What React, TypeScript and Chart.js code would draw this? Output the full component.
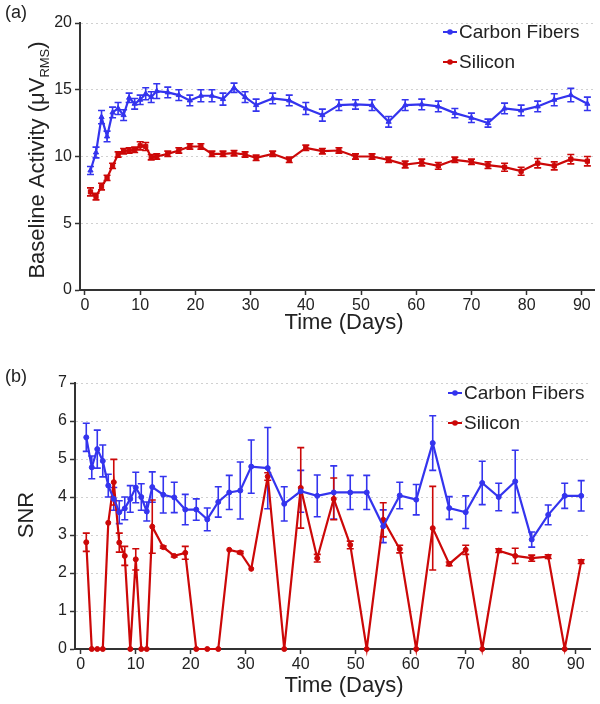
import React, { useEffect, useRef } from "react";
import { Chart, registerables } from "chart.js";

Chart.register(...registerables);

// ---------- data ----------
const days = [1, 2, 3, 4, 5, 6, 7, 8, 9, 10, 11, 12, 13, 15, 17, 19, 21, 23, 25, 27, 29, 31, 34, 37, 40, 43, 46, 49, 52, 55, 58, 61, 64, 67, 70, 73, 76, 79, 82, 85, 88, 91];

const cfBaseline = [8.95, 10.3, 12.95, 11.5, 13.3, 13.6, 13.1, 14.4, 13.95, 14.25, 14.7, 14.45, 14.9, 14.8, 14.6, 14.2, 14.55, 14.55, 14.3, 15.15, 14.45, 13.85, 14.35, 14.2, 13.6, 13.1, 13.85, 13.9, 13.85, 12.6, 13.85, 13.9, 13.75, 13.25, 12.9, 12.5, 13.6, 13.45, 13.75, 14.25, 14.6, 13.95];
const cfBaselineErr = [0.3, 0.4, 0.5, 0.4, 0.4, 0.45, 0.4, 0.35, 0.4, 0.35, 0.45, 0.4, 0.55, 0.4, 0.4, 0.4, 0.45, 0.45, 0.45, 0.35, 0.4, 0.45, 0.4, 0.4, 0.45, 0.45, 0.4, 0.35, 0.4, 0.4, 0.4, 0.4, 0.4, 0.35, 0.35, 0.3, 0.4, 0.4, 0.4, 0.45, 0.5, 0.5];

const siBaseline = [7.35, 7.0, 7.75, 8.4, 9.3, 10.15, 10.4, 10.45, 10.5, 10.8, 10.75, 9.95, 10.0, 10.2, 10.45, 10.75, 10.75, 10.2, 10.2, 10.25, 10.15, 9.9, 10.2, 9.75, 10.65, 10.4, 10.45, 10.0, 10.0, 9.75, 9.4, 9.55, 9.3, 9.75, 9.6, 9.35, 9.2, 8.9, 9.5, 9.3, 9.8, 9.65];
const siBaselineErr = [0.3, 0.25, 0.25, 0.2, 0.2, 0.2, 0.2, 0.2, 0.2, 0.3, 0.3, 0.2, 0.2, 0.2, 0.2, 0.2, 0.2, 0.2, 0.2, 0.2, 0.2, 0.2, 0.2, 0.2, 0.2, 0.2, 0.2, 0.2, 0.2, 0.2, 0.25, 0.25, 0.25, 0.2, 0.2, 0.25, 0.3, 0.3, 0.35, 0.3, 0.35, 0.35];

const cfSnr = [5.57, 4.78, 5.26, 4.95, 4.3, 3.95, 3.6, 3.7, 3.95, 4.25, 4.0, 3.62, 4.26, 4.06, 3.99, 3.67, 3.67, 3.41, 3.87, 4.12, 4.17, 4.8, 4.76, 3.82, 4.15, 4.03, 4.12, 4.12, 4.12, 3.23, 4.04, 3.93, 5.42, 3.71, 3.6, 4.37, 4.0, 4.41, 2.88, 3.53, 4.03, 4.03];
const cfSnrErr = [0.37, 0.3, 0.5, 0.42, 0.3, 0.3, 0.3, 0.3, 0.35, 0.4, 0.35, 0.25, 0.4, 0.48, 0.4, 0.4, 0.28, 0.3, 0.4, 0.45, 0.75, 0.7, 1.07, 0.45, 0.55, 0.55, 0.7, 0.45, 0.45, 0.43, 0.35, 0.4, 0.72, 0.3, 0.43, 0.57, 0.36, 0.82, 0.2, 0.26, 0.33, 0.4];

const siSnr = [2.81, 0, 0, 0, 3.32, 4.39, 2.8, 2.45, 0, 2.36, 0, 0, 3.22, 2.68, 2.45, 2.53, 0, 0, 0, 2.61, 2.54, 2.11, 4.54, 0, 4.24, 2.39, 3.95, 2.74, 0, 3.4, 2.63, 0, 3.18, 2.24, 2.61, 0, 2.59, 2.45, 2.39, 2.43, 0, 2.3];
const siSnrErr = [0.24, 0, 0, 0, 0, 0.6, 0.25, 0.25, 0, 0.28, 0, 0, 0.7, 0.03, 0.03, 0.17, 0, 0, 0, 0, 0.03, 0, 0.1, 0, 1.06, 0.1, 0.55, 0.1, 0, 0.45, 0.1, 0, 1.1, 0.05, 0.12, 0, 0.05, 0.2, 0.08, 0.05, 0, 0.05];

const xTickValues = [0, 10, 20, 30, 40, 50, 60, 70, 80, 90];
const seriesLabels = ["Carbon Fibers", "Silicon"];

// ---------- style ----------
const BLUE = "#3434ee";
const RED = "#cc0808";
const AXIS = "#333333";
const TEXT = "#222222";
const FONT = "'Liberation Sans', Arial, Helvetica, sans-serif";

const errorBarPlugin = {
  id: "errorBars",
  beforeDatasetsDraw(chart: any, _args: any, opts: any) {
    const errs: number[][] = opts.errors || [];
    const ctx = chart.ctx;
    const xs = chart.scales.x;
    const ys = chart.scales.y;
    const cap = opts.cap || 3.5;
    chart.data.datasets.forEach((ds: any, i: number) => {
      const e = errs[i];
      if (!e) return;
      ctx.save();
      ctx.strokeStyle = ds.borderColor;
      ctx.lineWidth = 1.6;
      ds.data.forEach((p: any, j: number) => {
        const v = e[j];
        if (!v) return;
        const x = xs.getPixelForValue(p.x);
        const y1 = ys.getPixelForValue(p.y - v);
        const y2 = ys.getPixelForValue(p.y + v);
        ctx.beginPath();
        ctx.moveTo(x, y1);
        ctx.lineTo(x, y2);
        ctx.moveTo(x - cap, y1);
        ctx.lineTo(x + cap, y1);
        ctx.moveTo(x - cap, y2);
        ctx.lineTo(x + cap, y2);
        ctx.stroke();
      });
      ctx.restore();
    });
  },
};

const decorPlugin = {
  id: "decor",
  afterDraw(chart: any, _args: any, o: any) {
    const ctx = chart.ctx;
    ctx.save();
    ctx.fillStyle = TEXT;
    // panel letter
    ctx.font = `18px ${FONT}`;
    ctx.textAlign = "left";
    ctx.textBaseline = "middle";
    ctx.fillText(o.panel, o.panelX, o.panelY);
    // x title
    ctx.font = `22px ${FONT}`;
    ctx.textAlign = "center";
    ctx.fillText(o.xTitle, o.xTitleX, o.xTitleY);
    // y title (with optional subscript)
    ctx.save();
    ctx.translate(o.yTitleX, o.yTitleY);
    ctx.rotate(-Math.PI / 2);
    ctx.textAlign = "left";
    ctx.textBaseline = "alphabetic";
    const mainF = `22px ${FONT}`;
    const subF = `13px ${FONT}`;
    ctx.font = mainF;
    const w1 = ctx.measureText(o.yTitle).width;
    ctx.font = subF;
    const w2 = o.ySub ? ctx.measureText(o.ySub).width : 0;
    ctx.font = mainF;
    const w3 = o.yTitleEnd ? ctx.measureText(o.yTitleEnd).width : 0;
    let x = -(w1 + w2 + w3) / 2;
    ctx.fillText(o.yTitle, x, 0);
    x += w1;
    if (o.ySub) {
      ctx.font = subF;
      ctx.fillText(o.ySub, x, 5);
      x += w2;
      ctx.font = mainF;
      ctx.fillText(o.yTitleEnd, x, 0);
    }
    ctx.restore();
    // legend
    ctx.font = `19px ${FONT}`;
    ctx.textAlign = "left";
    ctx.textBaseline = "middle";
    chart.data.datasets.forEach((ds: any, i: number) => {
      const y = o.legendY + i * o.legendGap;
      ctx.strokeStyle = ds.borderColor;
      ctx.fillStyle = ds.borderColor;
      ctx.lineWidth = 2;
      ctx.beginPath();
      ctx.moveTo(o.legendX, y);
      ctx.lineTo(o.legendX + 14, y);
      ctx.stroke();
      ctx.beginPath();
      ctx.arc(o.legendX + 7, y, 2.8, 0, Math.PI * 2);
      ctx.fill();
      ctx.fillStyle = TEXT;
      ctx.fillText(ds.label, o.legendX + 16, y + 1);
    });
    ctx.restore();
  },
};

type PanelProps = {
  height: number;
  s1: number[];
  e1: number[];
  s2: number[];
  e2: number[];
  yMax: number;
  yStep: number;
  xMin: number;
  xMax: number;
  areaTop: number;
  areaBottom: number;
  areaLeft: number;
  areaRight: number;
  point1: string;
  point2: string;
  pointR: number;
  decor: any;
};

function Panel(p: PanelProps) {
  const ref = useRef<HTMLCanvasElement | null>(null);
  useEffect(() => {
    if (!ref.current) return;
    const toPts = (arr: number[]) => arr.map((v, i) => ({ x: days[i], y: v }));
    const chart = new Chart(ref.current, {
      type: "line",
      data: {
        datasets: [
          {
            label: seriesLabels[0],
            data: toPts(p.s1),
            borderColor: BLUE,
            backgroundColor: BLUE,
            borderWidth: 2.2,
            pointStyle: p.point1 as any,
            pointRadius: p.pointR,
            pointBorderWidth: 1,
            tension: 0,
            clip: 8 as any,
          },
          {
            label: seriesLabels[1],
            data: toPts(p.s2),
            borderColor: RED,
            backgroundColor: RED,
            borderWidth: 2.2,
            pointStyle: p.point2 as any,
            pointRadius: p.pointR,
            pointBorderWidth: 1,
            tension: 0,
            clip: 8 as any,
          },
        ],
      },
      options: {
        responsive: false,
        animation: false,
        devicePixelRatio: 1,
        layout: {
          padding: { top: p.areaTop, left: 0, right: 600 - p.areaRight, bottom: 0 },
        },
        plugins: {
          legend: { display: false },
          tooltip: { enabled: false },
          errorBars: { errors: [p.e1, p.e2], cap: 3.5 },
          decor: p.decor,
        } as any,
        scales: {
          x: {
            type: "linear",
            min: p.xMin,
            max: p.xMax,
            afterBuildTicks: (s: any) => {
              s.ticks = xTickValues.map((v) => ({ value: v }));
            },
            afterFit: (s: any) => {
              s.height = p.height - p.areaBottom;
            },
            grid: {
              display: true,
              drawOnChartArea: false,
              drawTicks: true,
              tickLength: 5,
              tickColor: AXIS,
              tickWidth: 1.5,
            },
            border: { display: true, color: AXIS, width: 2 },
            ticks: {
              color: TEXT,
              font: { family: FONT, size: 16 },
              padding: 1,
              maxRotation: 0,
              autoSkip: false,
            },
          },
          y: {
            type: "linear",
            min: 0,
            max: p.yMax,
            afterFit: (s: any) => {
              s.width = p.areaLeft;
            },
            grid: {
              display: true,
              drawOnChartArea: true,
              color: "#d0d0d0",
              lineWidth: 1,
              tickLength: 5,
              tickColor: AXIS,
              tickWidth: 1.5,
            },
            border: { display: true, color: AXIS, width: 2, dash: [2, 3] },
            ticks: {
              stepSize: p.yStep,
              color: TEXT,
              font: { family: FONT, size: 16 },
              padding: 3,
            },
          },
        },
      },
      plugins: [errorBarPlugin, decorPlugin],
    });
    return () => chart.destroy();
  }, []);
  return <canvas ref={ref} width={600} height={p.height} style={{ display: "block", width: 600, height: p.height }} />;
}

export default function App() {
  useEffect(() => {
    document.body.style.margin = "0";
  }, []);
  return (
    <div style={{ width: 600, height: 704, background: "#fff" }}>
      <Panel
        height={352}
        s1={cfBaseline}
        e1={cfBaselineErr}
        s2={siBaseline}
        e2={siBaselineErr}
        yMax={20}
        yStep={5}
        xMin={-0.9}
        xMax={92.2}
        areaTop={23}
        areaBottom={290}
        areaLeft={80}
        areaRight={594}
        point1="triangle"
        point2="rect"
        pointR={3}
        decor={{
          panel: "(a)",
          panelX: 5,
          panelY: 13,
          xTitle: "Time (Days)",
          xTitleX: 344,
          xTitleY: 323,
          yTitle: "Baseline Activity (\u03bcV",
          ySub: "RMS",
          yTitleEnd: ")",
          yTitleX: 44,
          yTitleY: 160,
          legendX: 443,
          legendY: 32,
          legendGap: 30,
        }}
      />
      <Panel
        height={352}
        s1={cfSnr}
        e1={cfSnrErr}
        s2={siSnr}
        e2={siSnrErr}
        yMax={7}
        yStep={1}
        xMin={-1.05}
        xMax={92.6}
        areaTop={31}
        areaBottom={297}
        areaLeft={75}
        areaRight={590}
        point1="circle"
        point2="circle"
        pointR={2.5}
        decor={{
          panel: "(b)",
          panelX: 5,
          panelY: 25,
          xTitle: "Time (Days)",
          xTitleX: 344,
          xTitleY: 334,
          yTitle: "SNR",
          ySub: "",
          yTitleEnd: "",
          yTitleX: 33,
          yTitleY: 163,
          legendX: 448,
          legendY: 41,
          legendGap: 30,
        }}
      />
    </div>
  );
}
